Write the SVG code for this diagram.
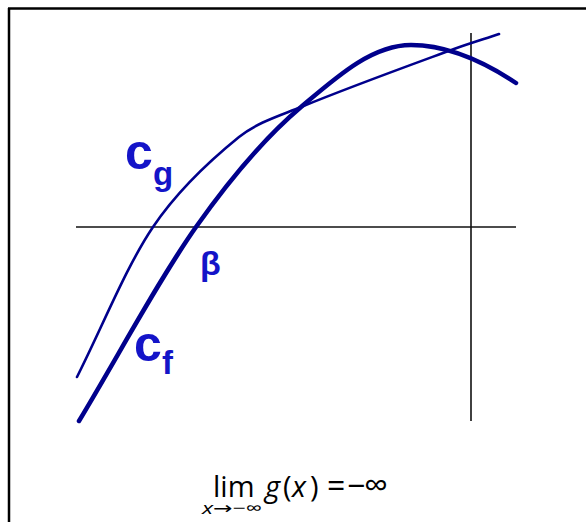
<svg xmlns="http://www.w3.org/2000/svg" width="586" height="522" viewBox="0 0 586 522">
<style>
.frame{stroke:#000;stroke-width:2.5;fill:none}
.axis{stroke:#111;stroke-width:1.6;fill:none}
.curve{stroke:#00008c;fill:none;stroke-linecap:round;stroke-linejoin:round}
.lbl{font-family:"Liberation Sans",Arial,sans-serif;font-weight:bold;fill:#1414c8}
.m{font-family:"Open Sans","DejaVu Sans",sans-serif;font-size:29px;fill:#000}
.i{font-style:italic}
.s{font-family:"Open Sans","DejaVu Sans",sans-serif;font-size:17px;fill:#000}
</style>
<rect width="586" height="522" fill="#fff"/>
<g id="frame">
<line class="frame" x1="8" y1="8.5" x2="586" y2="8.5"/>
<line class="frame" x1="9" y1="8" x2="9" y2="522"/>
</g>
<g id="axes">
<line class="axis" x1="76" y1="227" x2="516" y2="227"/>
<line class="axis" x1="471" y1="33" x2="471" y2="421"/>
</g>
<g id="connectors">
<path id="cf" class="curve" stroke-width="4.5" d="M79,421 C118,356.3 159,279.3 196,227 C233,174.7 265.2,137.3 301,107 C336.8,76.7 372,45 411,45 C446,45 481,59.7 516,83"/>
<path id="cg" class="curve" stroke-width="2.6" d="M77,377 C102.3,327 126,267 153,227 C180,187 214.3,157 239,137 C256.9,122.5 279.7,115.7 301,107 C351.9,86.2 402.4,68 454,49 C469,43.5 483.8,39.1 499,34"/>
</g>
<g id="label-cg">
<text class="lbl" x="125" y="169" font-size="50">c<tspan x="153" y="185" font-size="33">g</tspan></text>
</g>
<g id="label-cf">
<text class="lbl" x="134" y="361" font-size="50">c<tspan x="162" y="374" font-size="33">f</tspan></text>
</g>
<g id="label-beta">
<text class="lbl" x="200" y="275" font-size="34">β</text>
</g>
<g id="formula">
<text class="m" x="213" y="497">lim<tspan class="i" x="265">g</tspan><tspan x="283">(</tspan><tspan class="i" x="292">x</tspan><tspan x="310">)</tspan><tspan x="327" font-size="32">=</tspan><tspan x="347" font-size="32">−</tspan><tspan x="364" font-size="34">∞</tspan></text>
<text class="s" x="202" y="514" textLength="60" lengthAdjust="spacingAndGlyphs"><tspan class="i">x</tspan>→−∞</text>
</g>
</svg>
